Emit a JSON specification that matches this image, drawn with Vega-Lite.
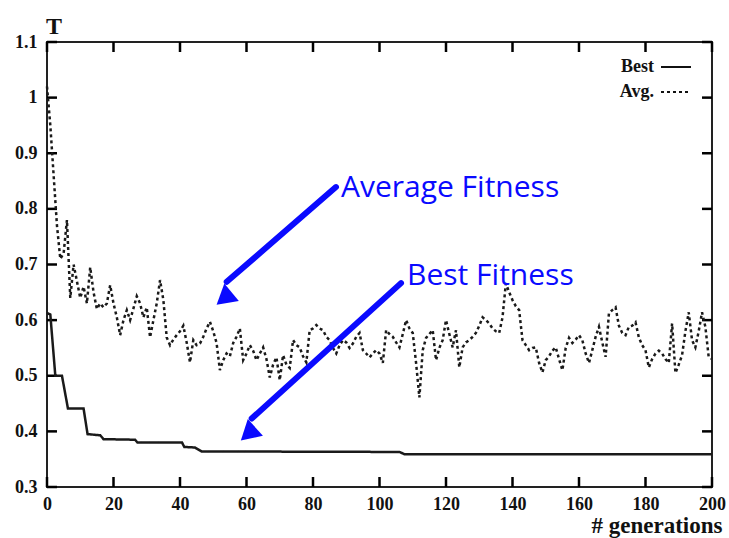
{
  "$schema": "https://vega.github.io/schema/vega-lite/v6.json",
  "width": 665,
  "height": 445,
  "autosize": "none",
  "padding": {"left": 47, "top": 42, "right": 17, "bottom": 51},
  "background": "white",
  "config": {
    "view": {"stroke": "#222", "strokeWidth": 2},
    "axis": {
      "grid": false, "domain": false, "ticks": false, "labelFlush": false,
      "labelFont": "Liberation Serif", "labelFontWeight": "bold", "labelFontSize": 18, "labelColor": "#111",
      "titleFont": "Liberation Serif", "titleFontWeight": "bold", "titleColor": "#111"
    }
  },
  "datasets": {
    "xticks": [{"gen":0},{"gen":20},{"gen":40},{"gen":60},{"gen":80},{"gen":100},{"gen":120},{"gen":140},{"gen":160},{"gen":180},{"gen":200}],
    "yticks": [{"T":0.3},{"T":0.4},{"T":0.5},{"T":0.6},{"T":0.7},{"T":0.8},{"T":0.9},{"T":1},{"T":1.1}],
    "fitness": [
      {"gen":0,"T":0.613,"series":"Best"},{"gen":1,"T":0.61,"series":"Best"},{"gen":2.5,"T":0.5,"series":"Best"},{"gen":4.5,"T":0.5,"series":"Best"},{"gen":6.3,"T":0.441,"series":"Best"},{"gen":11,"T":0.441,"series":"Best"},{"gen":12.2,"T":0.395,"series":"Best"},{"gen":16,"T":0.393,"series":"Best"},{"gen":17,"T":0.386,"series":"Best"},{"gen":26.5,"T":0.385,"series":"Best"},{"gen":27.2,"T":0.38,"series":"Best"},{"gen":40.6,"T":0.38,"series":"Best"},{"gen":41.3,"T":0.372,"series":"Best"},{"gen":44.5,"T":0.371,"series":"Best"},{"gen":46.5,"T":0.364,"series":"Best"},{"gen":106,"T":0.363,"series":"Best"},{"gen":107.5,"T":0.359,"series":"Best"},{"gen":200,"T":0.359,"series":"Best"},
      {"gen":0,"T":1.02,"series":"Avg."},{"gen":1,"T":0.95,"series":"Avg."},{"gen":2,"T":0.86,"series":"Avg."},{"gen":3,"T":0.77,"series":"Avg."},{"gen":4,"T":0.71,"series":"Avg."},{"gen":5,"T":0.72,"series":"Avg."},{"gen":6,"T":0.78,"series":"Avg."},{"gen":7,"T":0.64,"series":"Avg."},{"gen":8,"T":0.7,"series":"Avg."},{"gen":9,"T":0.67,"series":"Avg."},
      {"gen":10,"T":0.64,"series":"Avg."},{"gen":11,"T":0.66,"series":"Avg."},{"gen":12,"T":0.63,"series":"Avg."},{"gen":13,"T":0.695,"series":"Avg."},{"gen":14,"T":0.65,"series":"Avg."},{"gen":15,"T":0.62,"series":"Avg."},{"gen":16,"T":0.63,"series":"Avg."},{"gen":17,"T":0.623,"series":"Avg."},{"gen":18,"T":0.63,"series":"Avg."},{"gen":19,"T":0.663,"series":"Avg."},
      {"gen":20,"T":0.63,"series":"Avg."},{"gen":21,"T":0.605,"series":"Avg."},{"gen":22,"T":0.573,"series":"Avg."},{"gen":23,"T":0.6,"series":"Avg."},{"gen":24,"T":0.618,"series":"Avg."},{"gen":25,"T":0.6,"series":"Avg."},{"gen":26,"T":0.621,"series":"Avg."},{"gen":27,"T":0.643,"series":"Avg."},{"gen":28,"T":0.63,"series":"Avg."},{"gen":29,"T":0.605,"series":"Avg."},
      {"gen":30,"T":0.623,"series":"Avg."},{"gen":31,"T":0.569,"series":"Avg."},{"gen":32,"T":0.6,"series":"Avg."},{"gen":33,"T":0.63,"series":"Avg."},{"gen":34,"T":0.672,"series":"Avg."},{"gen":35,"T":0.636,"series":"Avg."},{"gen":36,"T":0.569,"series":"Avg."},{"gen":37,"T":0.555,"series":"Avg."},{"gen":38,"T":0.565,"series":"Avg."},{"gen":39,"T":0.573,"series":"Avg."},
      {"gen":40,"T":0.58,"series":"Avg."},{"gen":41,"T":0.59,"series":"Avg."},{"gen":42,"T":0.56,"series":"Avg."},{"gen":43,"T":0.524,"series":"Avg."},{"gen":44,"T":0.564,"series":"Avg."},{"gen":45,"T":0.555,"series":"Avg."},{"gen":46,"T":0.558,"series":"Avg."},{"gen":47,"T":0.57,"series":"Avg."},{"gen":48,"T":0.585,"series":"Avg."},{"gen":49,"T":0.597,"series":"Avg."},
      {"gen":50,"T":0.58,"series":"Avg."},{"gen":51,"T":0.559,"series":"Avg."},{"gen":52,"T":0.51,"series":"Avg."},{"gen":53,"T":0.528,"series":"Avg."},{"gen":54,"T":0.54,"series":"Avg."},{"gen":55,"T":0.535,"series":"Avg."},{"gen":56,"T":0.559,"series":"Avg."},{"gen":57,"T":0.57,"series":"Avg."},{"gen":58,"T":0.585,"series":"Avg."},{"gen":59,"T":0.528,"series":"Avg."},
      {"gen":60,"T":0.54,"series":"Avg."},{"gen":61,"T":0.555,"series":"Avg."},{"gen":62,"T":0.545,"series":"Avg."},{"gen":63,"T":0.528,"series":"Avg."},{"gen":64,"T":0.54,"series":"Avg."},{"gen":65,"T":0.551,"series":"Avg."},{"gen":66,"T":0.53,"series":"Avg."},{"gen":67,"T":0.497,"series":"Avg."},{"gen":68,"T":0.52,"series":"Avg."},{"gen":69,"T":0.533,"series":"Avg."},
      {"gen":70,"T":0.492,"series":"Avg."},{"gen":71,"T":0.537,"series":"Avg."},{"gen":72,"T":0.52,"series":"Avg."},{"gen":73,"T":0.514,"series":"Avg."},{"gen":74,"T":0.564,"series":"Avg."},{"gen":75,"T":0.555,"series":"Avg."},{"gen":76,"T":0.551,"series":"Avg."},{"gen":77,"T":0.535,"series":"Avg."},{"gen":78,"T":0.524,"series":"Avg."},{"gen":79,"T":0.582,"series":"Avg."},
      {"gen":80,"T":0.585,"series":"Avg."},{"gen":81,"T":0.591,"series":"Avg."},{"gen":82,"T":0.585,"series":"Avg."},{"gen":83,"T":0.582,"series":"Avg."},{"gen":84,"T":0.57,"series":"Avg."},{"gen":85,"T":0.564,"series":"Avg."},{"gen":86,"T":0.55,"series":"Avg."},{"gen":87,"T":0.54,"series":"Avg."},{"gen":88,"T":0.555,"series":"Avg."},{"gen":89,"T":0.564,"series":"Avg."},
      {"gen":90,"T":0.56,"series":"Avg."},{"gen":91,"T":0.55,"series":"Avg."},{"gen":92,"T":0.558,"series":"Avg."},{"gen":93,"T":0.57,"series":"Avg."},{"gen":94,"T":0.577,"series":"Avg."},{"gen":95,"T":0.546,"series":"Avg."},{"gen":96,"T":0.54,"series":"Avg."},{"gen":97,"T":0.533,"series":"Avg."},{"gen":98,"T":0.54,"series":"Avg."},{"gen":99,"T":0.546,"series":"Avg."},
      {"gen":100,"T":0.54,"series":"Avg."},{"gen":101,"T":0.523,"series":"Avg."},{"gen":102,"T":0.582,"series":"Avg."},{"gen":103,"T":0.575,"series":"Avg."},{"gen":104,"T":0.57,"series":"Avg."},{"gen":105,"T":0.56,"series":"Avg."},{"gen":106,"T":0.551,"series":"Avg."},{"gen":107,"T":0.575,"series":"Avg."},{"gen":108,"T":0.6,"series":"Avg."},{"gen":109,"T":0.585,"series":"Avg."},
      {"gen":110,"T":0.577,"series":"Avg."},{"gen":111,"T":0.523,"series":"Avg."},{"gen":112,"T":0.461,"series":"Avg."},{"gen":113,"T":0.546,"series":"Avg."},{"gen":114,"T":0.568,"series":"Avg."},{"gen":115,"T":0.575,"series":"Avg."},{"gen":116,"T":0.582,"series":"Avg."},{"gen":117,"T":0.528,"series":"Avg."},{"gen":118,"T":0.55,"series":"Avg."},{"gen":119,"T":0.564,"series":"Avg."},
      {"gen":120,"T":0.6,"series":"Avg."},{"gen":121,"T":0.575,"series":"Avg."},{"gen":122,"T":0.551,"series":"Avg."},{"gen":123,"T":0.582,"series":"Avg."},{"gen":124,"T":0.515,"series":"Avg."},{"gen":125,"T":0.551,"series":"Avg."},{"gen":126,"T":0.56,"series":"Avg."},{"gen":127,"T":0.564,"series":"Avg."},{"gen":128,"T":0.57,"series":"Avg."},{"gen":129,"T":0.577,"series":"Avg."},
      {"gen":130,"T":0.59,"series":"Avg."},{"gen":131,"T":0.605,"series":"Avg."},{"gen":132,"T":0.6,"series":"Avg."},{"gen":133,"T":0.594,"series":"Avg."},{"gen":134,"T":0.585,"series":"Avg."},{"gen":135,"T":0.58,"series":"Avg."},{"gen":136,"T":0.577,"series":"Avg."},{"gen":137,"T":0.605,"series":"Avg."},{"gen":138,"T":0.666,"series":"Avg."},{"gen":139,"T":0.65,"series":"Avg."},
      {"gen":140,"T":0.636,"series":"Avg."},{"gen":141,"T":0.625,"series":"Avg."},{"gen":142,"T":0.618,"series":"Avg."},{"gen":143,"T":0.564,"series":"Avg."},{"gen":144,"T":0.555,"series":"Avg."},{"gen":145,"T":0.546,"series":"Avg."},{"gen":146,"T":0.55,"series":"Avg."},{"gen":147,"T":0.551,"series":"Avg."},{"gen":148,"T":0.523,"series":"Avg."},{"gen":149,"T":0.506,"series":"Avg."},
      {"gen":150,"T":0.528,"series":"Avg."},{"gen":151,"T":0.535,"series":"Avg."},{"gen":152,"T":0.545,"series":"Avg."},{"gen":153,"T":0.551,"series":"Avg."},{"gen":154,"T":0.53,"series":"Avg."},{"gen":155,"T":0.51,"series":"Avg."},{"gen":156,"T":0.55,"series":"Avg."},{"gen":157,"T":0.568,"series":"Avg."},{"gen":158,"T":0.559,"series":"Avg."},{"gen":159,"T":0.565,"series":"Avg."},
      {"gen":160,"T":0.573,"series":"Avg."},{"gen":161,"T":0.564,"series":"Avg."},{"gen":162,"T":0.54,"series":"Avg."},{"gen":163,"T":0.523,"series":"Avg."},{"gen":164,"T":0.546,"series":"Avg."},{"gen":165,"T":0.57,"series":"Avg."},{"gen":166,"T":0.588,"series":"Avg."},{"gen":167,"T":0.56,"series":"Avg."},{"gen":168,"T":0.534,"series":"Avg."},{"gen":169,"T":0.612,"series":"Avg."},
      {"gen":170,"T":0.618,"series":"Avg."},{"gen":171,"T":0.623,"series":"Avg."},{"gen":172,"T":0.59,"series":"Avg."},{"gen":173,"T":0.577,"series":"Avg."},{"gen":174,"T":0.573,"series":"Avg."},{"gen":175,"T":0.588,"series":"Avg."},{"gen":176,"T":0.59,"series":"Avg."},{"gen":177,"T":0.596,"series":"Avg."},{"gen":178,"T":0.569,"series":"Avg."},{"gen":179,"T":0.555,"series":"Avg."},
      {"gen":180,"T":0.546,"series":"Avg."},{"gen":181,"T":0.515,"series":"Avg."},{"gen":182,"T":0.53,"series":"Avg."},{"gen":183,"T":0.54,"series":"Avg."},{"gen":184,"T":0.545,"series":"Avg."},{"gen":185,"T":0.54,"series":"Avg."},{"gen":186,"T":0.53,"series":"Avg."},{"gen":187,"T":0.523,"series":"Avg."},{"gen":188,"T":0.594,"series":"Avg."},{"gen":189,"T":0.505,"series":"Avg."},
      {"gen":190,"T":0.52,"series":"Avg."},{"gen":191,"T":0.537,"series":"Avg."},{"gen":192,"T":0.58,"series":"Avg."},{"gen":193,"T":0.614,"series":"Avg."},{"gen":194,"T":0.564,"series":"Avg."},{"gen":195,"T":0.551,"series":"Avg."},{"gen":196,"T":0.58,"series":"Avg."},{"gen":197,"T":0.614,"series":"Avg."},{"gen":198,"T":0.588,"series":"Avg."},{"gen":199,"T":0.534,"series":"Avg."},
      {"gen":200,"T":0.53,"series":"Avg."}
    ]
  },
  "layer": [
    {
      "data": {"name": "xticks"},
      "mark": {"type": "rule", "strokeWidth": 2.5, "color": "#000"},
      "encoding": {
        "x": {"field": "gen", "type": "quantitative"},
        "y": {"datum": 0.3, "type": "quantitative"},
        "y2": {"datum": 0.318}
      }
    },
    {
      "data": {"name": "xticks"},
      "mark": {"type": "rule", "strokeWidth": 2.5, "color": "#000"},
      "encoding": {
        "x": {"field": "gen", "type": "quantitative"},
        "y": {"datum": 1.1, "type": "quantitative"},
        "y2": {"datum": 1.082}
      }
    },
    {
      "data": {"name": "yticks"},
      "mark": {"type": "rule", "strokeWidth": 2.5, "color": "#000"},
      "encoding": {
        "y": {"field": "T", "type": "quantitative"},
        "x": {"datum": 0, "type": "quantitative"},
        "x2": {"datum": 3}
      }
    },
    {
      "data": {"name": "yticks"},
      "mark": {"type": "rule", "strokeWidth": 2.5, "color": "#000"},
      "encoding": {
        "y": {"field": "T", "type": "quantitative"},
        "x": {"datum": 200, "type": "quantitative"},
        "x2": {"datum": 197}
      }
    },
    {
      "data": {"name": "fitness"},
      "mark": {"type": "line", "strokeWidth": 2.5, "color": "#1a1a1a"},
      "encoding": {
        "x": {
          "field": "gen", "type": "quantitative",
          "scale": {"domain": [0, 200], "nice": false, "zero": false},
          "axis": {
            "orient": "bottom", "values": [0, 20, 40, 60, 80, 100, 120, 140, 160, 180, 200],
            "labelPadding": 8, "title": "# generations", "titleFontSize": 23,
            "titleX": 675, "titleY": 45, "titleAlign": "right", "titleBaseline": "alphabetic", "titleAnchor": null
          }
        },
        "y": {
          "field": "T", "type": "quantitative",
          "scale": {"domain": [0.3, 1.1], "nice": false, "zero": false},
          "axis": {
            "orient": "left", "values": [0.3, 0.4, 0.5, 0.6, 0.7, 0.8, 0.9, 1, 1.1], "format": "~g",
            "labelPadding": 10, "title": "T", "titleFontSize": 24, "titleAngle": 0,
            "titleX": 6.5, "titleY": -9, "titleAlign": "center", "titleBaseline": "alphabetic"
          }
        },
        "strokeDash": {
          "field": "series", "type": "nominal",
          "scale": {"domain": ["Best", "Avg."], "range": [[1, 0], [3, 3]]},
          "legend": {
            "orient": "none", "legendX": 613, "legendY": 9, "title": null,
            "symbolType": "stroke", "symbolSize": 900, "symbolStrokeWidth": 2, "symbolStrokeColor": "#111",
            "labelAlign": "right", "labelOffset": -38, "labelFont": "Liberation Serif", "labelFontWeight": "bold",
            "labelFontSize": 18, "labelColor": "#111", "rowPadding": -11
          }
        }
      }
    },
    {
      "data": {"values": [{}]},
      "mark": {"type": "rule", "strokeWidth": 6, "strokeCap": "round", "color": "#0a0aff"},
      "encoding": {
        "x": {"datum": 86.9, "type": "quantitative"},
        "y": {"datum": 0.8392, "type": "quantitative"},
        "x2": {"datum": 54.05},
        "y2": {"datum": 0.6688}
      }
    },
    {
      "data": {"values": [{}]},
      "mark": {"type": "rule", "strokeWidth": 6, "strokeCap": "round", "color": "#0a0aff"},
      "encoding": {
        "x": {"datum": 106.47, "type": "quantitative"},
        "y": {"datum": 0.6665, "type": "quantitative"},
        "x2": {"datum": 61.56},
        "y2": {"datum": 0.4231}
      }
    },
    {
      "data": {"values": [{}]},
      "mark": {"type": "point", "shape": "triangle-up", "filled": true, "size": 510, "angle": 230, "color": "#0a0aff", "opacity": 1},
      "encoding": {
        "x": {"datum": 53.26, "type": "quantitative"},
        "y": {"datum": 0.6388, "type": "quantitative"}
      }
    },
    {
      "data": {"values": [{}]},
      "mark": {"type": "point", "shape": "triangle-up", "filled": true, "size": 510, "angle": 228, "color": "#0a0aff", "opacity": 1},
      "encoding": {
        "x": {"datum": 60.48, "type": "quantitative"},
        "y": {"datum": 0.3954, "type": "quantitative"}
      }
    },
    {
      "data": {"values": [{}]},
      "mark": {"type": "text", "text": "Average Fitness", "font": "Open Sans", "fontSize": 30, "color": "#0a0aff", "align": "left", "baseline": "alphabetic"},
      "encoding": {
        "x": {"datum": 88.4, "type": "quantitative"},
        "y": {"datum": 0.821, "type": "quantitative"}
      }
    },
    {
      "data": {"values": [{}]},
      "mark": {"type": "text", "text": "Best Fitness", "font": "Open Sans", "fontSize": 30, "color": "#0a0aff", "align": "left", "baseline": "alphabetic"},
      "encoding": {
        "x": {"datum": 108.3, "type": "quantitative"},
        "y": {"datum": 0.663, "type": "quantitative"}
      }
    }
  ]
}
